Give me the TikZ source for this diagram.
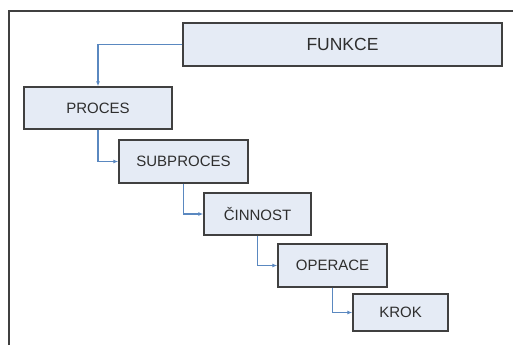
\documentclass[tikz,border=0pt]{standalone}
\usepackage{fontspec}
\setmainfont{Liberation Sans}
\usepackage{xcolor}
\usetikzlibrary{arrows.meta,positioning,calc}
\definecolor{boxfill}{HTML}{E5EBF5}
\definecolor{boxline}{HTML}{404040}
\definecolor{linkblue}{HTML}{5A88C0}
\definecolor{textgray}{HTML}{2E2E2E}

\begin{document}
\begin{tikzpicture}[
		x=1pt,
		y=-1pt,
		>=Latex,
		line join=miter,
		levelbox/.style={rectangle,draw=boxline,fill=boxfill,line width=1.4pt,
			inner sep=0pt,text=textgray,font=\fontsize{15}{18}\selectfont},
		topbox/.style={levelbox,font=\fontsize{17.5}{20}\selectfont},
		link/.style={-{Latex[length=5pt,width=4pt]},draw=linkblue,line width=1.1pt}
	]
	
	% Canvas
	\useasboundingbox (0,0) rectangle (513,345);
	
	% Outer frame (cut at right and bottom)
	\draw[boxline,line width=1.3pt] (9,345) -- (9,11) -- (513,11);
	
	% Hierarchy levels
	\node[topbox,minimum width=319pt,minimum height=43pt] (funkce) at (342.5,44.5) {FUNKCE};
	\node[levelbox,minimum width=148pt,minimum height=42pt] (proces) at (98,108) {PROCES};
	\node[levelbox,minimum width=129pt,minimum height=43pt] (subproces) at (183.5,161.5) {SUBPROCES};
	\node[levelbox,minimum width=107pt,minimum height=42pt] (cinnost) at (257.5,214) {ČINNOST};
	\node[levelbox,minimum width=109pt,minimum height=43pt] (operace) at (332.5,265.5) {OPERACE};
	\node[levelbox,minimum width=95pt,minimum height=37pt] (krok) at (400.5,312.5) {KROK};
	
	% Links between levels
	\draw[link] (funkce.west) -| (proces.north);
	\draw[link] (proces.south) |- (subproces.west);
	\draw[link] (subproces.south) |- (cinnost.west);
	\draw[link] (cinnost.south) |- (operace.west);
	\draw[link] (operace.south) |- (krok.west);
	
\end{tikzpicture}
\end{document}
